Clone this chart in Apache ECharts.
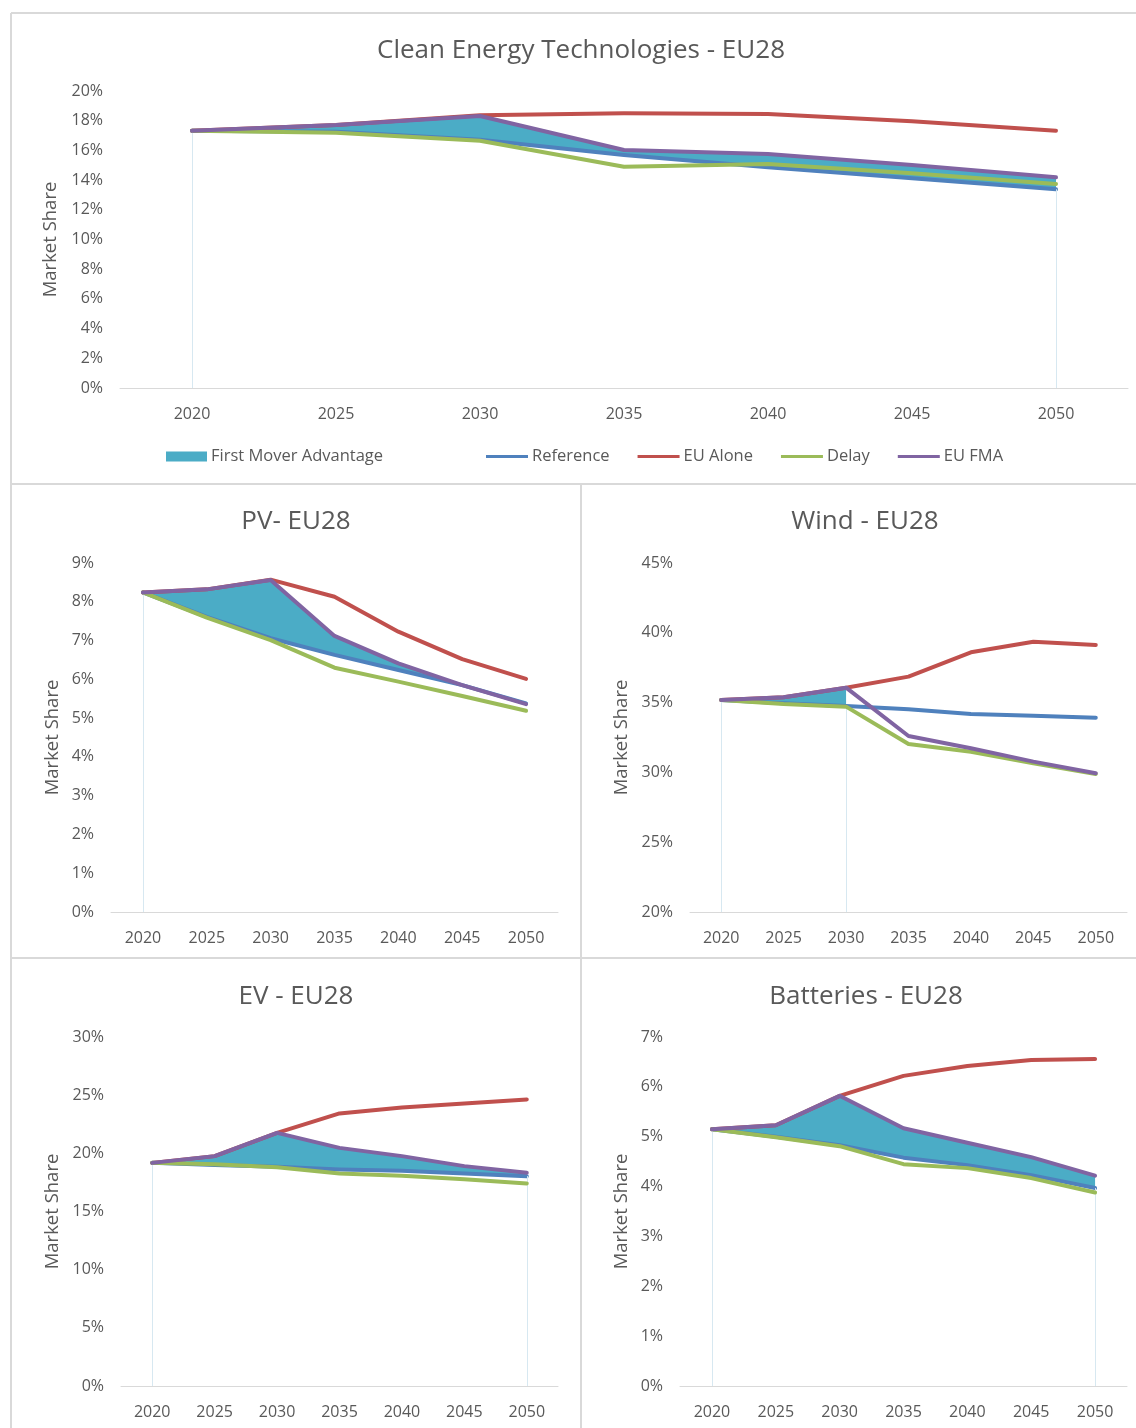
<!DOCTYPE html>
<html>
<head>
<meta charset="utf-8">
<title>EU28 Market Share</title>
<script src="https://cdn.jsdelivr.net/npm/echarts@6/dist/echarts.min.js"></script>
<style>
  html, body { margin: 0; padding: 0; background: #ffffff; }
  #chart { width: 1136px; height: 1428px; }
</style>
</head>
<body>
<div id="chart"></div>
<script>
// Scenario years shared by every panel
const years = ['2020', '2025', '2030', '2035', '2040', '2045', '2050'];

// Clean Energy Technologies - EU28 (market share, %)
const ceReference = [17.33, 17.25, 16.72, 15.69, 14.86, 14.12, 13.38];
const ceEuAlone   = [17.33, 17.71, 18.36, 18.50, 18.45, 17.96, 17.33];
const ceDelay     = [17.33, 17.19, 16.65, 14.90, 15.08, 14.46, 13.74];
const ceEuFma     = [17.33, 17.71, 18.32, 16.03, 15.76, 15.02, 14.19];

// PV - EU28
const pvReference = [8.24, 7.61, 7.06, 6.63, 6.24, 5.85, 5.38];
const pvEuAlone   = [8.24, 8.32, 8.57, 8.13, 7.23, 6.52, 6.01];
const pvDelay     = [8.24, 7.59, 7.01, 6.30, 5.94, 5.57, 5.19];
const pvEuFma     = [8.24, 8.32, 8.56, 7.12, 6.41, 5.85, 5.36];

// Wind - EU28
const windReference = [35.19, 34.95, 34.76, 34.52, 34.18, 34.06, 33.92];
const windEuAlone   = [35.19, 35.38, 36.07, 36.86, 38.60, 39.36, 39.13];
const windDelay     = [35.19, 34.90, 34.71, 32.03, 31.48, 30.65, 29.89];
const windEuFma     = [35.19, 35.38, 36.07, 32.61, 31.73, 30.77, 29.94];

// EV - EU28
const evReference = [19.18, 19.00, 18.84, 18.62, 18.50, 18.27, 18.04];
const evEuAlone   = [19.18, 19.76, 21.76, 23.43, 23.94, 24.29, 24.63];
const evDelay     = [19.18, 19.07, 18.80, 18.27, 18.07, 17.78, 17.41];
const evEuFma     = [19.18, 19.76, 21.76, 20.47, 19.76, 18.90, 18.33];

// Batteries - EU28
const batReference = [5.15, 5.00, 4.83, 4.58, 4.43, 4.23, 3.97];
const batEuAlone   = [5.15, 5.23, 5.82, 6.22, 6.42, 6.54, 6.56];
const batDelay     = [5.15, 4.99, 4.81, 4.45, 4.37, 4.17, 3.88];
const batEuFma     = [5.15, 5.23, 5.82, 5.17, 4.88, 4.59, 4.22];

// Axis ranges (percent)
const ceAxis   = { min: 0,  max: 20, step: 2 };
const pvAxis   = { min: 0,  max: 9,  step: 1 };
const windAxis = { min: 20, max: 45, step: 5 };
const evAxis   = { min: 0,  max: 30, step: 5 };
const batAxis  = { min: 0,  max: 7,  step: 1 };

const COLORS = {
  band: '#4bacc6',
  reference: '#4f81bd',
  alone: '#c0504d',
  delay: '#9bbb59',
  fma: '#8064a2',
  text: '#595959',
  frame: '#d9d9d9',
  edge: '#d7e8f1'
};
const FONT = '"Open Sans", "Noto Sans", sans-serif';

const panels = [
  { id: 'ce', title: 'Clean Energy Technologies - EU28', ref: ceReference, alone: ceEuAlone, delay: ceDelay, fma: ceEuFma, axis: ceAxis,
    grid: { left: 120, top: 91, width: 1008, height: 297 }, titleX: 576, titleY: 33, nameGap: 58 },
  { id: 'pv', title: 'PV- EU28', ref: pvReference, alone: pvEuAlone, delay: pvDelay, fma: pvEuFma, axis: pvAxis,
    grid: { left: 111, top: 563, width: 447, height: 349 }, titleX: 291, titleY: 504, nameGap: 49 },
  { id: 'wind', title: 'Wind - EU28', ref: windReference, alone: windEuAlone, delay: windDelay, fma: windEuFma, axis: windAxis,
    grid: { left: 690, top: 563, width: 437, height: 349 }, titleX: 860, titleY: 504, nameGap: 59 },
  { id: 'ev', title: 'EV - EU28', ref: evReference, alone: evEuAlone, delay: evDelay, fma: evEuFma, axis: evAxis,
    grid: { left: 121, top: 1037, width: 437, height: 349 }, titleX: 291, titleY: 979, nameGap: 59 },
  { id: 'bat', title: 'Batteries - EU28', ref: batReference, alone: batEuAlone, delay: batDelay, fma: batEuFma, axis: batAxis,
    grid: { left: 680, top: 1037, width: 447, height: 349 }, titleX: 861, titleY: 979, nameGap: 49 }
];

const titles = [], grids = [], xAxes = [], yAxes = [], series = [];

panels.forEach((p, i) => {
  titles.push({
    text: p.title, left: p.titleX, top: p.titleY, textAlign: 'center',
    textStyle: { color: COLORS.text, fontSize: 26, fontWeight: 'normal', fontFamily: FONT }
  });
  grids.push(Object.assign({ containLabel: false }, p.grid));
  xAxes.push({
    type: 'category', gridIndex: i, data: years, boundaryGap: true,
    axisTick: { show: false },
    axisLine: { lineStyle: { color: COLORS.frame, width: 1 } },
    axisLabel: { color: COLORS.text, fontSize: 16, fontFamily: FONT, margin: 18 }
  });
  yAxes.push({
    type: 'value', gridIndex: i, min: p.axis.min, max: p.axis.max, interval: p.axis.step,
    name: 'Market Share', nameLocation: 'middle', nameGap: p.nameGap, nameRotate: 90,
    nameTextStyle: { color: COLORS.text, fontSize: 18.5, fontFamily: FONT },
    axisLine: { show: false }, axisTick: { show: false }, splitLine: { show: false },
    axisLabel: { color: COLORS.text, fontSize: 16, fontFamily: FONT, margin: 17, formatter: '{value}%' }
  });

  // First Mover Advantage band: EU FMA above Reference, stacked on the Reference line
  const band = p.fma.map((v, k) => (v - p.ref[k] >= 0 ? +(v - p.ref[k]).toFixed(3) : null));
  const filled = band.map((v, k) => (v === null ? -1 : k)).filter(k => k >= 0);
  const first = filled[0], last = filled[filled.length - 1];
  // thin drop edges where the band starts, and where it ends with some height
  const edges = [first];
  if (last !== first && band[last] > 0.05) edges.push(last);
  const stackId = 'fma-' + p.id;

  series.push({
    name: 'band-base-' + p.id, type: 'line', xAxisIndex: i, yAxisIndex: i, stack: stackId,
    data: p.ref, showSymbol: false, symbol: 'none', silent: true,
    lineStyle: { width: 0, opacity: 0 }, z: 1,
    markLine: {
      silent: true, symbol: 'none', label: { show: false },
      lineStyle: { color: COLORS.edge, width: 1, type: 'solid' },
      data: edges.map(k => [{ coord: [k, p.axis.min] }, { coord: [k, p.ref[k]] }])
    }
  });
  series.push({
    name: 'First Mover Advantage', type: 'line', xAxisIndex: i, yAxisIndex: i, stack: stackId,
    data: band, showSymbol: false, symbol: 'none', connectNulls: false,
    color: COLORS.band,
    lineStyle: { width: 0 },
    areaStyle: { color: COLORS.band, opacity: 1 }, z: 2
  });

  const lineDefs = [
    ['Reference', p.ref, COLORS.reference],
    ['EU Alone', p.alone, COLORS.alone],
    ['Delay', p.delay, COLORS.delay],
    ['EU FMA', p.fma, COLORS.fma]
  ];
  lineDefs.forEach(([name, data, color], j) => {
    series.push({
      name, type: 'line', xAxisIndex: i, yAxisIndex: i, data,
      color, showSymbol: false, symbol: 'none',
      lineStyle: { color, width: 4, cap: 'round', join: 'round' },
      z: 3 + j
    });
  });
});

const frame = { type: 'line', silent: true, style: { stroke: COLORS.frame, lineWidth: 2 } };
const frameLines = [
  [11, 13, 1136, 13],
  [11, 13, 11, 1428],
  [11, 484, 1136, 484],
  [11, 958, 1136, 958],
  [581, 484, 581, 1428]
].map(([x1, y1, x2, y2]) => Object.assign({}, frame, { shape: { x1, y1, x2, y2 } }));

const chart = echarts.init(document.getElementById('chart'), null, { renderer: 'canvas' });
chart.setOption({
  backgroundColor: '#ffffff',
  animation: false,
  title: titles,
  grid: grids,
  xAxis: xAxes,
  yAxis: yAxes,
  legend: [
    {
      left: 161, top: 443, itemWidth: 41, itemHeight: 10, itemGap: 20,
      data: [{ name: 'First Mover Advantage', icon: 'rect' }],
      textStyle: { color: COLORS.text, fontSize: 16.5, fontFamily: FONT, padding: [0, 0, 0, -1] },
      selectedMode: false
    },
    {
      left: 481, top: 443, itemWidth: 42, itemHeight: 3, itemGap: 28,
      data: ['Reference', 'EU Alone', 'Delay', 'EU FMA'].map(n => ({ name: n, icon: 'rect' })),
      textStyle: { color: COLORS.text, fontSize: 16.5, fontFamily: FONT, padding: [0, 0, 0, -1] },
      selectedMode: false
    }
  ],
  graphic: frameLines,
  series
});
</script>
</body>
</html>
